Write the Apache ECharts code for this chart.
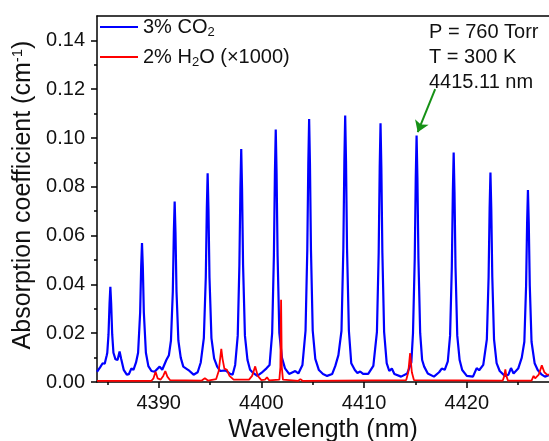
<!DOCTYPE html>
<html>
<head>
<meta charset="utf-8">
<script src="https://cdn.jsdelivr.net/npm/echarts@6/dist/echarts.min.js"></script>
<style>
html, body { margin: 0; padding: 0; background: #fff; }
#chartmain { width: 549px; height: 441px; }
</style>
</head>
<body>
<div id="chartmain"></div>
<script>
// 3% CO2 spectrum (nm, cm-1)
var co2Wavelength = [
    4384.0, 4384.3, 4384.55, 4384.75, 4384.95, 4385.0, 4385.12, 4385.22, 4385.30, 4385.38, 4385.48, 4385.6, 4385.8, 4386.0, 4386.2, 4386.35, 4386.6, 4386.9, 4387.1, 4387.35, 4387.55, 4387.8,
    4388.0, 4388.2, 4388.3, 4388.38, 4388.46, 4388.56, 4388.76, 4389.0, 4389.3, 4389.6, 4390.1, 4390.35, 4390.75, 4391.0,
    4391.2, 4391.38, 4391.48, 4391.56, 4391.64, 4391.74, 4391.92, 4392.15, 4392.4, 4392.9, 4393.4, 4393.8, 4394.1,
    4394.4, 4394.59, 4394.69, 4394.77, 4394.85, 4394.95, 4395.14, 4395.4, 4395.7, 4396.0, 4396.5, 4396.9, 4397.2, 4397.45,
    4397.7, 4397.86, 4397.96, 4398.04, 4398.12, 4398.22, 4398.4, 4398.65, 4398.9, 4399.2, 4399.6, 4400.0, 4400.5, 4400.8,
    4401.05, 4401.22, 4401.32, 4401.40, 4401.48, 4401.58, 4401.75, 4402.0, 4402.3, 4402.7, 4403.3, 4403.6, 4404.0,
    4404.3, 4404.47, 4404.57, 4404.65, 4404.73, 4404.83, 4405.0, 4405.25, 4405.6, 4406.0, 4406.4, 4406.9, 4407.2, 4407.5,
    4407.8, 4407.98, 4408.08, 4408.16, 4408.24, 4408.34, 4408.52, 4408.75, 4409.1, 4409.35, 4409.62, 4409.9, 4410.4, 4410.9,
    4411.25, 4411.42, 4411.52, 4411.60, 4411.68, 4411.78, 4411.95, 4412.2, 4412.45, 4412.7, 4412.95, 4413.6, 4414.2, 4414.6,
    4414.76, 4414.93, 4415.03, 4415.11, 4415.19, 4415.29, 4415.46, 4415.65, 4415.85, 4416.2, 4416.8, 4417.3, 4417.56, 4417.85, 4418.15,
    4418.37, 4418.54, 4418.64, 4418.72, 4418.8, 4418.9, 4419.07, 4419.3, 4419.55, 4420.0, 4420.6, 4420.96, 4421.2, 4421.6,
    4421.95, 4422.12, 4422.22, 4422.30, 4422.38, 4422.48, 4422.65, 4422.9, 4423.2, 4423.7, 4424.05, 4424.3, 4424.55, 4425.0, 4425.35,
    4425.6, 4425.77, 4425.87, 4425.95, 4426.03, 4426.13, 4426.3, 4426.6, 4426.9, 4427.3, 4427.6, 4427.8, 4428.0
];
var co2Absorb = [
    0.0042, 0.0060, 0.0077, 0.0075, 0.0110, 0.0120, 0.0195, 0.0320, 0.0390, 0.0320, 0.0195, 0.0120, 0.0093, 0.0090, 0.0125, 0.0095, 0.0050, 0.0030, 0.0032, 0.0056, 0.0050, 0.0080,
    0.0120, 0.0285, 0.0473, 0.0570, 0.0473, 0.0285, 0.0120, 0.0065, 0.0045, 0.0042, 0.0063, 0.0050, 0.0090, 0.0110,
    0.0170, 0.0370, 0.0614, 0.0740, 0.0614, 0.0370, 0.0170, 0.0100, 0.0063, 0.0049, 0.0030, 0.0040, 0.0080,
    0.0180, 0.0428, 0.0710, 0.0855, 0.0710, 0.0428, 0.0180, 0.0097, 0.0063, 0.0045, 0.0048, 0.0035, 0.0030, 0.0070,
    0.0190, 0.0478, 0.0793, 0.0955, 0.0793, 0.0478, 0.0190, 0.0090, 0.0050, 0.0037, 0.0025, 0.0037, 0.0056, 0.0070,
    0.0200, 0.0518, 0.0860, 0.1035, 0.0860, 0.0518, 0.0200, 0.0100, 0.0056, 0.0033, 0.0045, 0.0035, 0.0070,
    0.0210, 0.0540, 0.0895, 0.1078, 0.0895, 0.0540, 0.0210, 0.0095, 0.0049, 0.0033, 0.0025, 0.0033, 0.0066, 0.0110,
    0.0210, 0.0546, 0.0906, 0.1092, 0.0906, 0.0546, 0.0210, 0.0077, 0.0049, 0.0037, 0.0043, 0.0033, 0.0033, 0.0066,
    0.0205, 0.0530, 0.0880, 0.1060, 0.0880, 0.0530, 0.0205, 0.0077, 0.0045, 0.0055, 0.0033, 0.0022, 0.0035, 0.0080,
    0.0200, 0.0505, 0.0838, 0.1010, 0.0838, 0.0505, 0.0200, 0.0090, 0.0063, 0.0035, 0.0022, 0.0040, 0.0055, 0.0050, 0.0085,
    0.0190, 0.0470, 0.0780, 0.0940, 0.0780, 0.0470, 0.0190, 0.0090, 0.0049, 0.0025, 0.0022, 0.0057, 0.0048, 0.0070,
    0.0175, 0.0430, 0.0712, 0.0858, 0.0712, 0.0430, 0.0175, 0.0077, 0.0045, 0.0025, 0.0030, 0.0057, 0.0035, 0.0055, 0.0100,
    0.0165, 0.0394, 0.0653, 0.0787, 0.0653, 0.0394, 0.0165, 0.0077, 0.0049, 0.0030, 0.0022, 0.0025, 0.0028
];

// 2% H2O spectrum (x1000)
var h2oWavelength = [
    4384.0, 4389.3, 4389.5, 4389.7, 4389.9, 4390.2, 4390.45, 4390.65, 4390.85, 4391.1,
    4394.2, 4394.5, 4394.8, 4395.6, 4395.85, 4396.0, 4396.1, 4396.22, 4396.4, 4396.65, 4396.9, 4397.3,
    4398.8, 4399.1, 4399.4, 4399.65, 4400.0, 4400.35, 4400.55, 4400.75,
    4401.75, 4401.85, 4401.92, 4401.99, 4402.1, 4403.6, 4403.8, 4404.0,
    4414.1, 4414.3, 4414.48, 4414.65, 4414.85,
    4423.5, 4423.65, 4423.75, 4423.85, 4424.0,
    4426.3, 4426.5, 4426.65, 4427.0, 4427.3, 4427.55, 4427.8, 4428.0
];
var h2oAbsorb = [
    0.0005, 0.0005, 0.0015, 0.0042, 0.0015, 0.0010, 0.0025, 0.0045, 0.0022, 0.0008,
    0.0006, 0.0015, 0.0006, 0.0012, 0.0045, 0.0100, 0.0136, 0.0095, 0.0055, 0.0050, 0.0025, 0.0010,
    0.0010, 0.0025, 0.0064, 0.0025, 0.0008, 0.0010, 0.0019, 0.0007,
    0.0010, 0.0060, 0.0337, 0.0060, 0.0010, 0.0005, 0.0012, 0.0005,
    0.0008, 0.0040, 0.0118, 0.0040, 0.0008,
    0.0006, 0.0025, 0.0052, 0.0025, 0.0006,
    0.0006, 0.0025, 0.0015, 0.0030, 0.0068, 0.0040, 0.0030, 0.0030
];

var seriesNames = ['3% CO2', '2% H2O (×1000)'];
var xTicks = [4390, 4400, 4410, 4420];
var xMinorTicks = [4385, 4395, 4405, 4415, 4425];
var yTicks = [0, 0.02, 0.04, 0.06, 0.08, 0.10, 0.12, 0.14];
var yMinorTicks = [0.01, 0.03, 0.05, 0.07, 0.09, 0.11, 0.13];
// arrow pointing at the 4415.11 nm line
var arrowFrom = [4416.92, 0.1200];
var arrowTo = [4415.22, 0.1024];
var noteLines = ['P = 760 Torr', 'T = 300 K', '4415.11 nm'];

function zip(xs, ys) {
    var out = [];
    for (var i = 0; i < xs.length; i++) out.push([xs[i], ys[i]]);
    return out;
}

var FONT = 'Liberation Sans, Arial, sans-serif';
var xMin = 4384, xMax = 4428;

var option = {
    animation: false,
    backgroundColor: '#fff',
    textStyle: { fontFamily: FONT },
    grid: { left: 97, right: 0, top: 16, bottom: 59, outerBoundsMode: 'none', containLabel: false },
    legend: {
        orient: 'vertical',
        left: 100,
        top: 15,
        icon: 'rect',
        itemWidth: 38,
        itemHeight: 2,
        itemGap: 6,
        padding: 0,
        data: seriesNames,
        formatter: function (name) {
            if (name === seriesNames[0]) return '3% CO{sub|2}';
            return '2% H{sub|2}O (×1000)';
        },
        textStyle: {
            fontFamily: FONT,
            fontSize: 20,
            lineHeight: 24,
            color: '#111',
            rich: {
                sub: { fontFamily: FONT, fontSize: 13, lineHeight: 10, verticalAlign: 'bottom', color: '#111' }
            }
        }
    },
    xAxis: [{
        type: 'value',
        min: xMin, max: xMax,
        name: 'Wavelength (nm)',
        nameLocation: 'middle',
        nameGap: 30,
        nameTextStyle: { fontFamily: FONT, fontSize: 25, color: '#111' },
        axisLine: { show: true, lineStyle: { color: '#000', width: 1.5 } },
        axisTick: { show: true, length: 6, customValues: xTicks, lineStyle: { color: '#000', width: 1.5 } },
        axisLabel: {
            customValues: xTicks, margin: 11, fontFamily: FONT, fontSize: 20, color: '#111',
            formatter: function (v) { return String(v); }
        },
        splitLine: { show: false }
    }, {
        type: 'value',
        min: xMin, max: xMax,
        position: 'bottom',
        axisLine: { show: false },
        axisTick: { show: true, length: 3, customValues: xMinorTicks, lineStyle: { color: '#000', width: 1.5 } },
        axisLabel: { show: false },
        splitLine: { show: false }
    }, {
        type: 'value',
        min: xMin, max: xMax,
        position: 'top',
        axisLine: { show: true, lineStyle: { color: '#000', width: 1.5 } },
        axisTick: { show: false },
        axisLabel: { show: false },
        splitLine: { show: false }
    }],
    yAxis: [{
        type: 'value',
        min: 0, max: 0.15,
        name: 'Absorption coefficient (cm{sup|-1})',
        nameLocation: 'middle',
        nameGap: 49,
        nameTextStyle: {
            fontFamily: FONT, fontSize: 25, color: '#111',
            padding: [0, 0, 0, 8],
            rich: { sup: { fontFamily: FONT, fontSize: 15, verticalAlign: 'top', lineHeight: 12, color: '#111' } }
        },
        axisLine: { show: true, lineStyle: { color: '#000', width: 1.5 } },
        axisTick: { show: true, length: 6, customValues: yTicks, lineStyle: { color: '#000', width: 1.5 } },
        axisLabel: {
            customValues: yTicks, margin: 12, fontFamily: FONT, fontSize: 20, color: '#111',
            formatter: function (v) { return v.toFixed(2); }
        },
        splitLine: { show: false }
    }, {
        type: 'value',
        min: 0, max: 0.15,
        position: 'left',
        axisLine: { show: false },
        axisTick: { show: true, length: 3, customValues: yMinorTicks, lineStyle: { color: '#000', width: 1.5 } },
        axisLabel: { show: false },
        splitLine: { show: false }
    }],
    series: [{
        name: seriesNames[0],
        type: 'line',
        xAxisIndex: 0, yAxisIndex: 0,
        showSymbol: false,
        data: zip(co2Wavelength, co2Absorb),
        lineStyle: { color: '#0000ff', width: 2.2 },
        itemStyle: { color: '#0000ff' },
        markLine: {
            silent: true,
            symbol: ['none', 'arrow'],
            symbolSize: 11,
            label: { show: false },
            lineStyle: { color: '#169116', width: 2, type: 'solid' },
            data: [[{ coord: arrowFrom }, { coord: arrowTo }]]
        }
    }, {
        name: seriesNames[1],
        type: 'line',
        xAxisIndex: 0, yAxisIndex: 0,
        showSymbol: false,
        data: zip(h2oWavelength, h2oAbsorb),
        lineStyle: { color: '#ff0000', width: 1.8 },
        itemStyle: { color: '#ff0000' }
    }],
    graphic: [{
        type: 'text',
        left: 429,
        top: 20,
        style: {
            text: noteLines.join('\n'),
            font: '20px ' + FONT,
            lineHeight: 25,
            fill: '#111'
        }
    }]
};

var myChart = echarts.init(document.getElementById('chartmain'));
myChart.setOption(option);
</script>
</body>
</html>
